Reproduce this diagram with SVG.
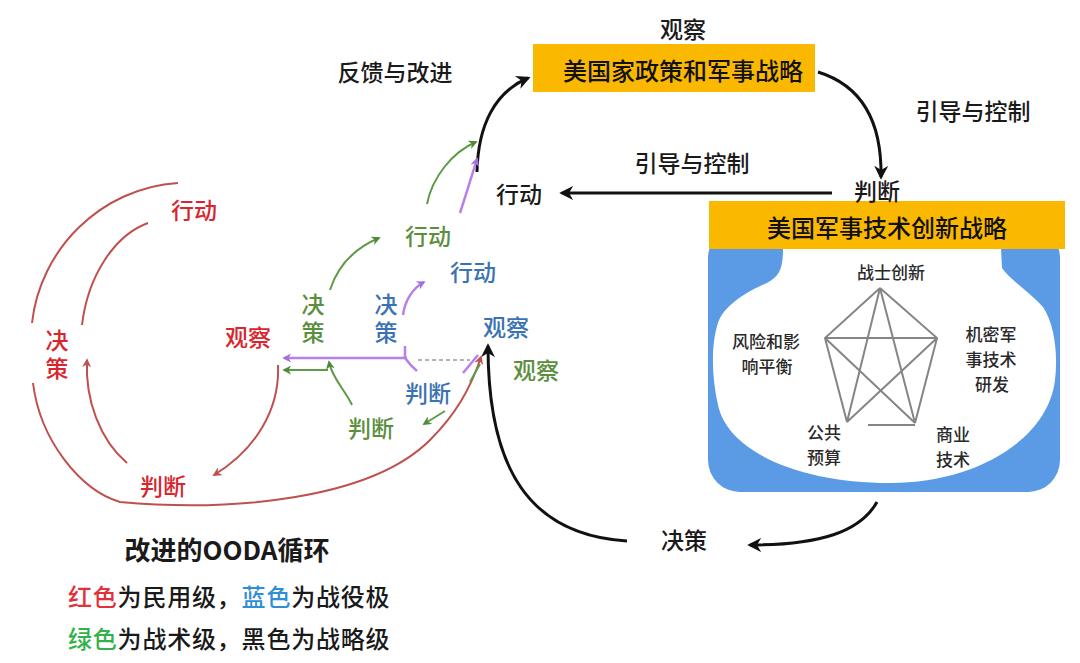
<svg xmlns="http://www.w3.org/2000/svg" width="1080" height="663" viewBox="0 0 1080 663">
<style>
text{font-family:"Noto Sans CJK SC","Noto Sans",sans-serif;dominant-baseline:central;text-anchor:middle}
.lb{font-size:23px;font-weight:500}
.vt{writing-mode:vertical-rl;letter-spacing:5px}
.k{fill:#1a1a1a}
.r{fill:#d7262e}
.g{fill:#5b8f3e}
.b{fill:#3b72b3}
.pt{font-size:17px;fill:#2a2a2a;font-weight:500}
.box{fill:#fbb800}
.bt{font-size:24px;fill:#111;font-weight:500}
.ck{fill:none;stroke:#111;stroke-width:3}
.cr{fill:none;stroke:#c0504d;stroke-width:2}
.cg{fill:none;stroke:#5e9a47;stroke-width:2}
.cp{fill:none;stroke:#b77fe8;stroke-width:2.5}
.pen{fill:none;stroke:#858585;stroke-width:2}
.leg{font-size:24px;fill:#1a1a1a;text-anchor:start;letter-spacing:0.8px;font-weight:500}
</style>
<defs>
<marker id="ak" viewBox="0 0 10 10" refX="8" refY="5" markerWidth="14" markerHeight="14" markerUnits="userSpaceOnUse" orient="auto"><path d="M0,0 L10,5 L0,10 L3,5 Z" fill="#111"/></marker>
<marker id="ar" viewBox="0 0 10 10" refX="8" refY="5" markerWidth="9" markerHeight="9" markerUnits="userSpaceOnUse" orient="auto"><path d="M0,0 L10,5 L0,10 L3,5 Z" fill="#c0504d"/></marker>
<marker id="ag" viewBox="0 0 10 10" refX="8" refY="5" markerWidth="9" markerHeight="9" markerUnits="userSpaceOnUse" orient="auto"><path d="M0,0 L10,5 L0,10 L3,5 Z" fill="#4f8a3a"/></marker>
<marker id="ap" viewBox="0 0 10 10" refX="8" refY="5" markerWidth="9" markerHeight="9" markerUnits="userSpaceOnUse" orient="auto"><path d="M0,0 L10,5 L0,10 L3,5 Z" fill="#a66fe0"/></marker>
</defs>
<rect width="1080" height="663" fill="#ffffff"/>

<g id="national-strategy">
<rect class="box" x="533" y="44" width="282" height="48"/>
<text class="bt" x="683" y="69">美国家政策和军事战略</text>
<text class="lb k" x="683" y="28">观察</text>
</g>

<g id="tech-strategy">
<rect x="708" y="226" width="352" height="266" rx="32" fill="#5b9be6"/>
<path d="M783,248 L1001,248 L1002,268 C1010,280 1030,292 1043,307 C1055,325 1058,355 1055,380 C1048,440 975,483 890,483 C800,483 728,452 718,405 C710,370 712,335 720,318 C730,300 755,288 767,283 C780,276 783,268 783,248 Z" fill="#ffffff"/>
<rect class="box" x="709" y="201" width="356" height="48"/>
<text class="bt" x="887" y="226">美国军事技术创新战略</text>
<text class="lb k" x="877" y="190">判断</text>
</g>

<g id="pentagon">
<path class="pen" d="M880,288 L825,338 L847,422 M880,288 L937,338 L915,423 M868,425 L915,425 M880,288 L847,422 M880,288 L915,423 M825,338 L937,338 M825,338 L915,423 M937,338 L847,422"/>
<text class="pt" x="891" y="271">战士创新</text>
<text class="pt" x="766" y="340">风险和影</text>
<text class="pt" x="767" y="365">响平衡</text>
<text class="pt" x="991" y="333">机密军</text>
<text class="pt" x="991" y="358">事技术</text>
<text class="pt" x="992" y="383">研发</text>
<text class="pt" x="824" y="431">公共</text>
<text class="pt" x="824" y="456">预算</text>
<text class="pt" x="953" y="433">商业</text>
<text class="pt" x="953" y="458">技术</text>
</g>

<g id="strategic-labels">
<text class="lb k" x="395" y="71">反馈与改进</text>
<text class="lb k" x="973" y="110">引导与控制</text>
<text class="lb k" x="692" y="162">引导与控制</text>
<text class="lb k" x="519" y="193">行动</text>
<text class="lb k" x="684" y="539">决策</text>
</g>

<g id="civil-loop">
<text class="lb r" x="194" y="209">行动</text>
<text class="lb r vt" x="57" y="357">决策</text>
<text class="lb r" x="248" y="336">观察</text>
<text class="lb r" x="163" y="485">判断</text>
</g>

<g id="tactical-loop">
<text class="lb g vt" x="313" y="321">决策</text>
<text class="lb g" x="428" y="235">行动</text>
<text class="lb g" x="371" y="427">判断</text>
<text class="lb g" x="536" y="369">观察</text>
</g>

<g id="campaign-loop">
<text class="lb b vt" x="386" y="321">决策</text>
<text class="lb b" x="473" y="271">行动</text>
<text class="lb b" x="506" y="326">观察</text>
<text class="lb b" x="428" y="392">判断</text>
</g>

<g id="connectors">
<path class="ck" d="M477,172 C478,125 495,92 528,78" marker-end="url(#ak)"/>
<path class="ck" d="M818,72 C860,85 882,120 881,177" marker-end="url(#ak)"/>
<path class="ck" d="M832,193 L562,193" marker-end="url(#ak)"/>
<path class="ck" d="M877,502 C860,532 820,545 750,545" marker-end="url(#ak)"/>
<path class="ck" d="M627,541 C530,535 488,470 488,346" marker-end="url(#ak)"/>

<path class="cr" d="M178,183 C100,188 40,250 32,323"/>
<path class="cr" d="M33,383 C40,440 80,490 120,502 C230,512 370,500 430,440 C455,415 470,390 481,357" marker-end="url(#ar)"/>
<path class="cr" d="M148,223 C115,235 88,275 82,325"/>
<path class="cr" d="M127,463 C100,440 85,400 87,360" marker-end="url(#ar)"/>
<path class="cr" d="M278,365 C280,410 255,450 214,475" marker-end="url(#ar)"/>

<path class="cg" d="M330,290 C338,265 355,248 379,238" marker-end="url(#ag)"/>
<path class="cg" d="M427,204 C432,178 452,152 476,142" marker-end="url(#ag)"/>
<path class="cg" d="M328,370 L284,370" marker-end="url(#ag)"/>
<path class="cg" d="M352,405 C345,390 332,378 329,362" marker-end="url(#ag)"/>
<path class="cg" d="M445,411 L424,424" marker-end="url(#ag)"/>
<path class="cg" d="M470,382 L480,364"/>

<path class="cp" d="M407,358 L284,358" marker-end="url(#ap)"/>
<path class="cp" d="M403,315 C405,300 413,288 424,282" marker-end="url(#ap)"/>
<path class="cp" d="M460,213 C466,195 472,175 477,159" marker-end="url(#ap)"/>
<path class="cp" d="M405,346 L405,358 Q410,365 417,371"/>
<path class="cp" d="M463,373 L478,355"/>
<path d="M418,360 L470,360" fill="none" stroke="#9a9a9a" stroke-width="1.5" stroke-dasharray="4 3"/>
</g>

<g id="legend">
<text x="227" y="548" style="font-size:26px;font-weight:bold;fill:#1a1a1a">改进的OODA循环</text>
<text class="leg" x="68" y="595"><tspan fill="#e0323a">红色</tspan>为民用级，<tspan fill="#2f8fd6">蓝色</tspan>为战役极</text>
<text class="leg" x="68" y="637"><tspan fill="#33b24a">绿色</tspan>为战术级，黑色为战略级</text>
</g>
</svg>
